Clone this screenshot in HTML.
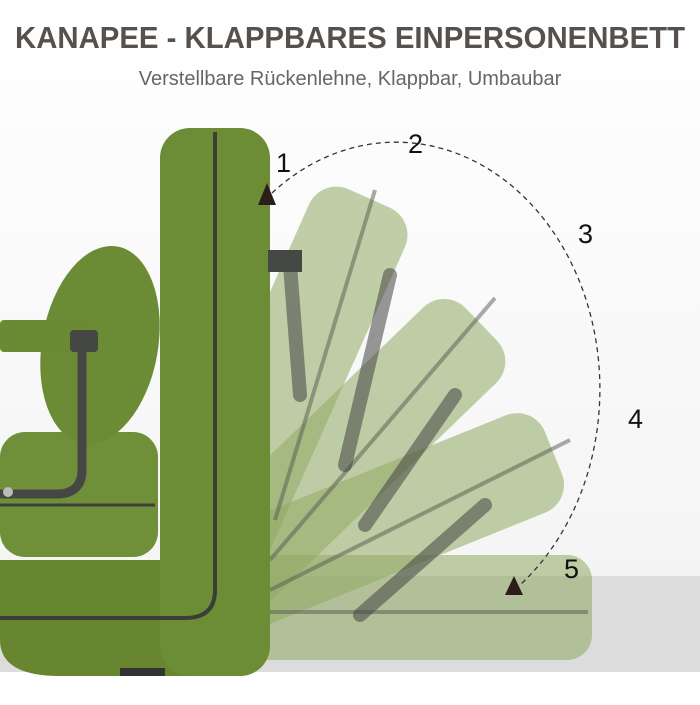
<!DOCTYPE html>
<html><head><style>
body{margin:0;width:700px;height:700px;overflow:hidden;background:#fff;font-family:"Liberation Sans",sans-serif}
</style></head><body>
<svg width="700" height="700" viewBox="0 0 700 700" xmlns="http://www.w3.org/2000/svg">
<defs>
<linearGradient id="bg" x1="0" y1="0" x2="0" y2="1"><stop offset="0" stop-color="#ffffff"/><stop offset="1" stop-color="#f2f2f2"/></linearGradient>
<clipPath id="cr"><rect x="262" y="0" width="438" height="700"/></clipPath>
</defs>
<rect width="700" height="700" fill="url(#bg)"/>
<rect x="0" y="576" width="700" height="96" fill="#dcdcdc"/>
<rect x="0" y="672" width="700" height="28" fill="#fff"/>
<text x="15" y="48" textLength="670" lengthAdjust="spacingAndGlyphs" font-size="31" font-weight="bold" fill="#56514c">KANAPEE - KLAPPBARES EINPERSONENBETT</text>
<text x="350" y="85" text-anchor="middle" font-size="20" fill="#6a6560">Verstellbare Rückenlehne, Klappbar, Umbaubar</text>

<!-- seat body -->
<rect x="0" y="432" width="158" height="125" rx="25" fill="#6f8f38"/>
<path d="M0 560 H215 V676 H60 Q0 676 0 640 Z" fill="#67862f"/>
<path d="M0 505 H155" stroke="#3c3f3c" stroke-width="3"/>
<!-- pillow -->
<ellipse cx="100" cy="345" rx="58" ry="100" transform="rotate(10 100 345)" fill="#6b8b34"/>
<!-- armrest -->
<rect x="0" y="320" width="95" height="32" rx="4" fill="#6a8a33"/>
<path d="M82 345 V470 Q82 492 60 494 H0" stroke="#454745" stroke-width="9" fill="none"/>
<rect x="70" y="330" width="28" height="22" rx="4" fill="#454745"/>
<circle cx="8" cy="492" r="5" fill="#bbb"/>
<rect x="120" y="668" width="45" height="8" fill="#333"/>

<!-- ghosts -->
<g clip-path="url(#cr)">
<g fill="#8faa62" fill-opacity="0.55">
<rect x="230" y="555" width="362" height="105" rx="25"/>
<g transform="rotate(-22 230 640)"><rect x="230" y="535" width="370" height="105" rx="30"/></g>
<g transform="rotate(-44 230 640)"><rect x="230" y="535" width="400" height="105" rx="30"/></g>
<g transform="rotate(-66 230 640)"><rect x="230" y="535" width="460" height="105" rx="30"/></g>
</g>
<g stroke="#55594f" stroke-opacity="0.5" stroke-width="4" fill="none">
<line x1="250" y1="612" x2="588" y2="612"/>
<line x1="270" y1="590" x2="570" y2="440" />
<line x1="270" y1="560" x2="495" y2="298"/>
<line x1="275" y1="520" x2="375" y2="190"/>
</g>
<g stroke="#444" stroke-opacity="0.55" stroke-width="14" stroke-linecap="round">
<line x1="290" y1="265" x2="300" y2="395"/>
<line x1="390" y1="275" x2="345" y2="465"/>
<line x1="455" y1="395" x2="365" y2="525"/>
<line x1="485" y1="505" x2="360" y2="615"/>
</g>
</g>

<!-- main backrest -->
<rect x="160" y="128" width="110" height="548" rx="30" fill="#6c8c35"/>
<line x1="215" y1="132" x2="215" y2="590" stroke="#3a3d38" stroke-width="4"/>
<path d="M215 590 Q215 618 185 618 H0" stroke="#3a3d38" stroke-width="4" fill="none"/>
<rect x="268" y="250" width="34" height="22" fill="#464845"/>

<!-- arc -->
<path d="M272 193 A190 230 0 0 1 520 585" stroke="#333" stroke-width="1.3" stroke-dasharray="5 4" fill="none"/>
<polygon points="267,183 258,205 276,205" fill="#2b1e18"/>
<polygon points="514,576 505,595 523,595" fill="#2b1e18"/>
<g font-size="27" fill="#111">
<text x="276" y="172">1</text>
<text x="408" y="153">2</text>
<text x="578" y="243">3</text>
<text x="628" y="428">4</text>
<text x="564" y="578">5</text>
</g>
</svg>
</body></html>
